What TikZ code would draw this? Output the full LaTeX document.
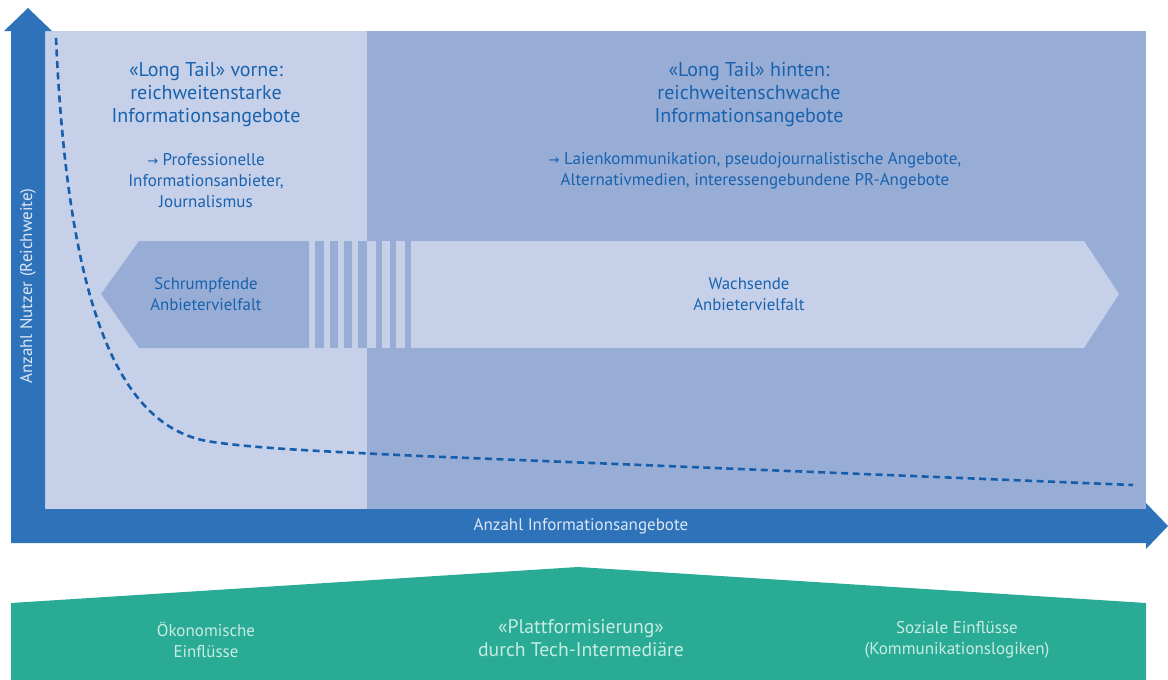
\documentclass[tikz,border=0pt]{standalone}
\usepackage{fontspec}
\setmainfont{PT Sans}
\newfontfamily\symfont{DejaVu Sans}
\definecolor{lightbg}{RGB}{198,209,233}
\definecolor{darkbg}{RGB}{151,173,214}
\definecolor{axisblue}{RGB}{46,115,185}
\definecolor{txtblue}{RGB}{24,98,174}
\definecolor{curveblue}{RGB}{22,94,172}
\definecolor{greenbg}{RGB}{42,171,150}
\definecolor{greentxt}{RGB}{200,236,226}
\definecolor{axistxt}{RGB}{220,230,245}
\newcommand{\myarr}{{\symfont\fontsize{13}{13}\selectfont →}}
\tikzset{
  title/.style={align=center,text=txtblue,font=\fontsize{20}{23}\selectfont},
  sub/.style={align=center,text=txtblue,font=\fontsize{17}{21}\selectfont},
  bantxt/.style={align=center,text=txtblue,font=\fontsize{16.8}{21}\selectfont},
  axlbl/.style={text=axistxt,font=\fontsize{17}{18}\selectfont},
  gtxt/.style={align=center,text=greentxt,font=\fontsize{17}{21}\selectfont},
  gtxtbig/.style={align=center,text=greentxt,font=\fontsize{19.7}{23}\selectfont},
}
\begin{document}
\begin{tikzpicture}[x=1pt,y=-1pt]
\useasboundingbox (0,0) rectangle (1168,680);
% backgrounds
\fill[lightbg] (45,31) rectangle (367,509);
\fill[darkbg] (367,31) rectangle (1146,509);
% axes
\fill[axisblue] (11,543) -- (11,31) -- (4,31) -- (28,8) -- (52,31) -- (45,31) -- (45,509)
  -- (1146,509) -- (1146,503) -- (1168,526) -- (1146,549) -- (1146,543) -- cycle;
% banner
\fill[darkbg] (101,294) -- (139,241) -- (309,241) -- (309,348) -- (139,348) -- cycle;
\foreach \a/\b in {315/324,330/338,344/352,358/367}
  \fill[darkbg] (\a,241) rectangle (\b,348);
\foreach \a/\b in {367/376,382/390,396/405}
  \fill[lightbg] (\a,241) rectangle (\b,348);
\fill[lightbg] (411,241) -- (1084,241) -- (1119,294) -- (1084,348) -- (411,348) -- cycle;
% curve
\draw[curveblue,line width=2.6pt,dash pattern=on 7pt off 4.5pt]
  (56,38) .. controls (68,310) and (120,430) .. (213,442)
  .. controls (260,449) and (340,452) .. (420,456)
  -- (1133,485);
% green
\fill[greenbg] (11,680) -- (11,603) -- (578,567) -- (1146,603) -- (1146,680) -- cycle;
% texts
\node[title] (t1) at (206,95) {«Long Tail» vorne:\\reichweitenstarke\\Informationsangebote};
\node[sub] (s1) at (206,181) {\myarr{} Professionelle\\Informationsanbieter,\\Journalismus};
\node[title] (t2) at (749,95) {«Long Tail» hinten:\\reichweitenschwache\\Informationsangebote};
\node[sub] (s2) at (755,171) {\myarr{} Laienkommunikation, pseudojournalistische Angebote,\\Alternativmedien, interessengebundene PR-Angebote};
\node[bantxt] (b1) at (206,294) {Schrumpfende\\Anbietervielfalt};
\node[bantxt] (b2) at (749,294) {Wachsende\\Anbietervielfalt};
\node[axlbl] (xl) at (581,526) {Anzahl Informationsangebote};
\node[axlbl,rotate=90] (yl) at (28,286) {Anzahl Nutzer (Reichweite)};
\node[gtxt] (g1) at (206,640) {Ökonomische\\Einflüsse};
\node[gtxtbig] (g2) at (581,638) {«Plattformisierung»\\durch Tech-Intermediäre};
\node[gtxt] (g3) at (957,640) {Soziale Einflüsse\\(Kommunikationslogiken)};
\end{tikzpicture}
\end{document}
